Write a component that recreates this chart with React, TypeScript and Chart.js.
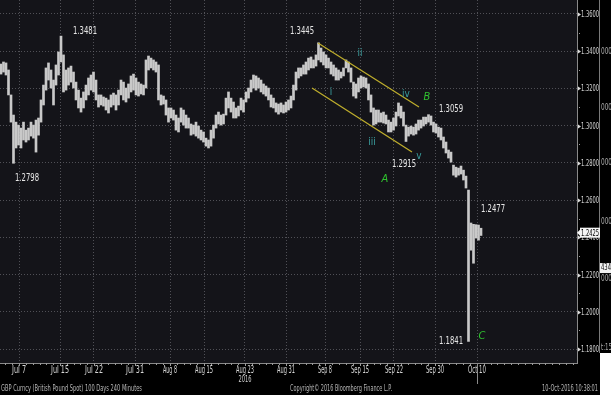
import React, { useEffect, useRef } from "react";
import { Chart, registerables } from "chart.js";

Chart.register(...registerables);

const FONT = '"Liberation Sans Narrow", "DejaVu Sans Condensed", "Liberation Sans", sans-serif';

// 240-minute bars (sampled), high and low prices
const highs = [
  1.3331, 1.3342, 1.3337, 1.3299, 1.3165, 1.3057, 1.3019, 1.3003, 1.2987, 1.3019,
  1.2976, 1.2987, 1.3019, 1.3003, 1.3030, 1.3041, 1.3138, 1.3218, 1.3310, 1.3337,
  1.3299, 1.3245, 1.3326, 1.3396, 1.3481, 1.3380, 1.3299, 1.3310, 1.3320, 1.3288,
  1.3234, 1.3191, 1.3148, 1.3181, 1.3218, 1.3256, 1.3272, 1.3288, 1.3245, 1.3165,
  1.3165, 1.3154, 1.3148, 1.3138, 1.3165, 1.3175, 1.3165, 1.3191, 1.3245, 1.3234,
  1.3202, 1.3224, 1.3267, 1.3277, 1.3256, 1.3234, 1.3224, 1.3218, 1.3353, 1.3374,
  1.3363, 1.3353, 1.3342, 1.3326, 1.3165, 1.3159, 1.3138, 1.3095, 1.3095, 1.3084,
  1.3057, 1.3041, 1.3095, 1.3084, 1.3057, 1.3041, 1.3009, 1.3003, 1.3019, 1.2998,
  1.2976, 1.2966, 1.2933, 1.2923, 1.2976, 1.3003, 1.3057, 1.3073, 1.3057, 1.3062,
  1.3148, 1.3181, 1.3148, 1.3127, 1.3095, 1.3105, 1.3148, 1.3138, 1.3181, 1.3202,
  1.3245, 1.3272, 1.3267, 1.3256, 1.3245, 1.3224, 1.3213, 1.3202, 1.3165, 1.3148,
  1.3122, 1.3116, 1.3122, 1.3111, 1.3127, 1.3138, 1.3159, 1.3218, 1.3288, 1.3310,
  1.3310, 1.3326, 1.3342, 1.3363, 1.3369, 1.3353, 1.3380, 1.3445, 1.3417, 1.3396,
  1.3380, 1.3363, 1.3342, 1.3326, 1.3310, 1.3299, 1.3288, 1.3310, 1.3353, 1.3342,
  1.3310, 1.3234, 1.3224, 1.3256, 1.3267, 1.3261, 1.3256, 1.3224, 1.3165, 1.3095,
  1.3084, 1.3084, 1.3068, 1.3073, 1.3057, 1.3030, 1.3019, 1.3041, 1.3073, 1.3122,
  1.3105, 1.3073, 1.3003, 1.2992, 1.2998, 1.2992, 1.3009, 1.3030, 1.3030, 1.3046,
  1.3046, 1.3059, 1.3052, 1.3019, 1.3009, 1.2992, 1.2987, 1.2939, 1.2912, 1.2869,
  1.2858, 1.2788, 1.2777, 1.2772, 1.2783, 1.2761, 1.2729, 1.2654, 1.2477, 1.2470,
  1.2468, 1.2466, 1.2449,
];
const lows = [
  1.3277, 1.3288, 1.3272, 1.3165, 1.3019, 1.2798, 1.2880, 1.2896, 1.2880, 1.2923,
  1.2912, 1.2923, 1.2944, 1.2933, 1.2858, 1.2949, 1.3019, 1.3111, 1.3191, 1.3245,
  1.3202, 1.3111, 1.3218, 1.3272, 1.3342, 1.3181, 1.3191, 1.3218, 1.3234, 1.3202,
  1.3138, 1.3095, 1.3073, 1.3095, 1.3138, 1.3165, 1.3191, 1.3181, 1.3138, 1.3100,
  1.3111, 1.3105, 1.3084, 1.3068, 1.3100, 1.3111, 1.3084, 1.3111, 1.3165, 1.3138,
  1.3127, 1.3148, 1.3181, 1.3191, 1.3165, 1.3159, 1.3170, 1.3165, 1.3202, 1.3299,
  1.3310, 1.3299, 1.3288, 1.3138, 1.3111, 1.3116, 1.3057, 1.3019, 1.3041, 1.3030,
  1.2976, 1.2966, 1.3019, 1.3003, 1.2987, 1.2987, 1.2949, 1.2955, 1.2944, 1.2933,
  1.2923, 1.2912, 1.2890, 1.2880, 1.2890, 1.2933, 1.2987, 1.3009, 1.3003, 1.3009,
  1.3057, 1.3095, 1.3073, 1.3041, 1.3041, 1.3052, 1.3084, 1.3073, 1.3127, 1.3148,
  1.3181, 1.3202, 1.3191, 1.3202, 1.3181, 1.3170, 1.3159, 1.3138, 1.3100, 1.3095,
  1.3073, 1.3062, 1.3073, 1.3068, 1.3073, 1.3084, 1.3095, 1.3138, 1.3191, 1.3256,
  1.3267, 1.3277, 1.3277, 1.3299, 1.3310, 1.3310, 1.3320, 1.3353, 1.3342, 1.3326,
  1.3310, 1.3310, 1.3277, 1.3267, 1.3245, 1.3245, 1.3256, 1.3267, 1.3310, 1.3288,
  1.3234, 1.3159, 1.3148, 1.3181, 1.3202, 1.3208, 1.3202, 1.3138, 1.3073, 1.3003,
  1.3009, 1.3019, 1.3019, 1.3014, 1.3009, 1.2966, 1.2966, 1.2976, 1.2998, 1.3052,
  1.3041, 1.2998, 1.2915, 1.2944, 1.2955, 1.2949, 1.2955, 1.2976, 1.2987, 1.2998,
  1.3009, 1.3019, 1.3003, 1.2966, 1.2960, 1.2939, 1.2923, 1.2880, 1.2853, 1.2826,
  1.2804, 1.2734, 1.2724, 1.2734, 1.2740, 1.2708, 1.2665, 1.1841, 1.2331, 1.2261,
  1.2396, 1.2385, 1.2410,
];
const lastPrice = 1.2425;

const dateLabels = ["Jul 7", "Jul 15", "Jul 22", "Jul 31", "Aug 8", "Aug 15", "Aug 23", "Aug 31", "Sep 8", "Sep 15", "Sep 22", "Sep 30", "Oct 10"];
const datePositions = [7.2, 23.6, 37.2, 53.6, 67.6, 81.2, 97.6, 114, 129.6, 143.6, 157.2, 173.6, 190.4];
const yearLabel = "2016";
const yearLabelIndex = 6;
const yTickValues = [1.18, 1.2, 1.22, 1.24, 1.26, 1.28, 1.3, 1.32, 1.34, 1.36];

const upperChannel = [{ x: 126.8, y: 1.3444 }, { x: 167.2, y: 1.31 }];
const lowerChannel = [{ x: 124.4, y: 1.3202 }, { x: 164.4, y: 1.2858 }];

const priceNotes = [
  { text: "1.3481", x: 33.6, y: 1.3509 },
  { text: "1.2798", x: 10.4, y: 1.2718 },
  { text: "1.3445", x: 120.4, y: 1.3509 },
  { text: "1.3059", x: 180, y: 1.3089 },
  { text: "1.2915", x: 161.2, y: 1.2794 },
  { text: "1.2477", x: 196.8, y: 1.2552 },
  { text: "1.1841", x: 180, y: 1.1842 },
];
const waveLetters = [
  { text: "A", x: 153.6, y: 1.2713 },
  { text: "B", x: 170.4, y: 1.3154 },
  { text: "C", x: 192.4, y: 1.1869 },
];
const waveNumerals = [
  { text: "i", x: 132, y: 1.3181 },
  { text: "ii", x: 143.6, y: 1.339 },
  { text: "iii", x: 148.4, y: 1.2912 },
  { text: "iv", x: 162, y: 1.317 },
  { text: "v", x: 167.2, y: 1.2837 },
];

const footerLeft = "GBP Curncy (British Pound Spot) 100 Days 240 Minutes";
const footerMid = "Copyright\u00A9 2016 Bloomberg Finance L.P.";
const footerRight = "10-Oct-2016 10:38:01";
const sidePanelNotes = [
  { text: "000", y: 1.3396 },
  { text: "000", y: 1.3095 },
  { text: "000", y: 1.2799 },
  { text: "000", y: 1.2482 },
  { text: "000", y: 1.2175 },
  { text: "t:15", y: 1.1804 },
];
const sidePanelBox = { text: "434", y: 1.2235 };

const bgPlugin = {
  id: "bgPlugin",
  beforeDraw(chart: any) {
    const { ctx, chartArea: a, width, height } = chart;
    ctx.save();
    ctx.fillStyle = "#000000";
    ctx.fillRect(0, 0, width, height);
    ctx.fillStyle = "#141419";
    ctx.fillRect(a.left, a.top, a.right - a.left, a.bottom - a.top);
    ctx.restore();
  },
};

const decorPlugin = {
  id: "decorPlugin",
  afterDraw(chart: any) {
    const { ctx, chartArea: a, width, height } = chart;
    const xs = chart.scales.x;
    const ys = chart.scales.y;
    ctx.save();

    // side panel remnants (cropped second panel on the far right)
    ctx.fillStyle = "#000000";
    ctx.fillRect(600, 0, width - 600, 353);
    ctx.fillStyle = "#ffffff";
    ctx.fillRect(600, 353, width - 600, height - 353);
    ctx.strokeStyle = "#7a7a7a";
    ctx.lineWidth = 1;
    ctx.beginPath();
    ctx.moveTo(599.5, 0);
    ctx.lineTo(599.5, 353);
    ctx.stroke();
    ctx.font = `8px ${FONT}`;
    ctx.textAlign = "left";
    ctx.textBaseline = "middle";
    ctx.fillStyle = "#a8a8a8";
    sidePanelNotes.forEach((n) => {
      ctx.fillText(n.text, 601, ys.getPixelForValue(n.y), 11);
    });
    const bpy = ys.getPixelForValue(sidePanelBox.y);
    ctx.fillStyle = "#f2f2f2";
    ctx.fillRect(600, bpy - 5, width - 600, 10);
    ctx.fillStyle = "#111111";
    ctx.fillText(sidePanelBox.text, 601, bpy, 10);

    // y-axis labels, arrow markers and minor dots
    ctx.font = `9px ${FONT}`;
    ys.ticks.forEach((t: any) => {
      const v = t.value;
      const py = Math.round(ys.getPixelForValue(v)) + 0.5;
      ctx.fillStyle = "#dddddd";
      ctx.beginPath();
      ctx.moveTo(a.right + 1, py - 2);
      ctx.lineTo(a.right + 4, py);
      ctx.lineTo(a.right + 1, py + 2);
      ctx.closePath();
      ctx.fill();
      ctx.fillStyle = "#d2d2d2";
      ctx.fillText(Number(v).toFixed(4), a.right + 4, py, 18);
      const pm = Math.round(ys.getPixelForValue(v + 0.01));
      if (pm > a.top && pm < a.bottom) {
        ctx.fillStyle = "#9a9a9a";
        ctx.fillRect(a.right + 2, pm, 1, 1);
      }
    });

    // last price box
    const lp = ys.getPixelForValue(lastPrice);
    ctx.fillStyle = "#f5f5f5";
    ctx.fillRect(a.right + 3, lp - 5, 20, 10);
    ctx.beginPath();
    ctx.moveTo(a.right, lp);
    ctx.lineTo(a.right + 3, lp - 3);
    ctx.lineTo(a.right + 3, lp + 3);
    ctx.closePath();
    ctx.fill();
    ctx.fillStyle = "#000000";
    ctx.fillText(lastPrice.toFixed(4), a.right + 4, lp + 0.5, 18);

    // x-axis labels
    ctx.font = `10px ${FONT}`;
    ctx.textAlign = "center";
    ctx.fillStyle = "#d6d6d6";
    const px = xs.ticks.map((t: any) => xs.getPixelForValue(t.value));
    xs.ticks.forEach((t: any, i: number) => {
      ctx.fillText(dateLabels[i], px[i], a.bottom + 7, dateLabels[i].length > 5 ? 18 : 14);
    });

    // x-axis minor ticks
    ctx.strokeStyle = "#9a9a9a";
    const drawTick = (x: number, len: number) => {
      const xx = Math.round(x) + 0.5;
      ctx.beginPath();
      ctx.moveTo(xx, a.bottom);
      ctx.lineTo(xx, a.bottom + len);
      ctx.stroke();
    };
    for (let k = 0; k < px.length - 1; k++) {
      const gap = px[k + 1] - px[k];
      const n = Math.max(1, Math.round(gap / 6.8));
      for (let j = 0; j < n; j++) drawTick(px[k] + (gap * j) / n, j === 0 ? 3 : 2);
    }
    const step = (px[1] - px[0]) / Math.round((px[1] - px[0]) / 6.8);
    for (let x = px[0] - step; x > a.left; x -= step) drawTick(x, 2);
    for (let x = px[px.length - 1]; x < a.right; x += step) drawTick(x, x === px[px.length - 1] ? 3 : 2);

    // today marker
    ctx.strokeStyle = "#8a8a8a";
    const lastX = Math.round(px[px.length - 1]) + 0.5;
    ctx.beginPath();
    ctx.moveTo(lastX, a.bottom);
    ctx.lineTo(lastX, a.bottom + 21);
    ctx.stroke();

    // year label
    ctx.font = `9px ${FONT}`;
    ctx.fillStyle = "#cfcfcf";
    ctx.textAlign = "center";
    ctx.fillText(yearLabel, px[yearLabelIndex], a.bottom + 17, 13);

    // footer
    ctx.fillStyle = "#b4b4b4";
    ctx.textAlign = "left";
    ctx.fillText(footerLeft, 1, height - 6, 141);
    ctx.fillText(footerMid, 290, height - 6, 102);
    ctx.textAlign = "right";
    ctx.fillText(footerRight, 598, height - 6, 56);

    // annotations
    ctx.textAlign = "center";
    ctx.textBaseline = "middle";
    ctx.fillStyle = "#e6e6e6";
    ctx.font = `11px ${FONT}`;
    priceNotes.forEach((n) => {
      ctx.fillText(n.text, xs.getPixelForValue(n.x), ys.getPixelForValue(n.y), 24);
    });
    ctx.fillStyle = "#2fc22f";
    ctx.font = `italic 11px ${FONT}`;
    waveLetters.forEach((n) => {
      ctx.fillText(n.text, xs.getPixelForValue(n.x), ys.getPixelForValue(n.y));
    });
    ctx.fillStyle = "#3a9c9c";
    ctx.font = `10px ${FONT}`;
    waveNumerals.forEach((n) => {
      ctx.fillText(n.text, xs.getPixelForValue(n.x), ys.getPixelForValue(n.y));
    });

    ctx.restore();
  },
};

export default function App() {
  const ref = useRef<HTMLCanvasElement>(null);
  useEffect(() => {
    document.body.style.margin = "0";
    document.body.style.background = "#000";
    const canvas = ref.current as HTMLCanvasElement;
    const gridColor = "rgba(105,105,112,0.7)";
    const chart = new Chart(canvas, {
      type: "bar",
      data: {
        datasets: [
          {
            type: "line",
            data: upperChannel,
            borderColor: "#bfae2c",
            borderWidth: 1.2,
            pointRadius: 0,
            order: 0,
          } as any,
          {
            type: "line",
            data: lowerChannel,
            borderColor: "#bfae2c",
            borderWidth: 1.2,
            pointRadius: 0,
            order: 0,
          } as any,
          {
            type: "bar",
            data: highs.map((h, i) => ({ x: i, y: [lows[i], h] })),
            backgroundColor: "#c9c9c9",
            borderWidth: 0,
            barThickness: 2,
            order: 1,
          } as any,
        ],
      },
      options: {
        animation: false,
        responsive: false,
        maintainAspectRatio: false,
        layout: { padding: 0 },
        plugins: { legend: { display: false }, tooltip: { enabled: false } },
        scales: {
          x: {
            type: "linear",
            min: -0.4,
            max: 230.4,
            offset: false,
            afterBuildTicks: (s: any) => {
              s.ticks = datePositions.map((v) => ({ value: v }));
            },
            afterFit: (s: any) => {
              s.height = 32;
              s.paddingLeft = 0;
              s.paddingRight = 0;
            },
            ticks: { display: false, autoSkip: false, callback: (_v: any, i: number) => dateLabels[i] },
            grid: { color: gridColor, drawTicks: false, offset: false, lineWidth: 1 },
            border: { display: true, color: "#8a8a8a", dash: [1, 2] },
          },
          y: {
            type: "linear",
            position: "right",
            min: 1.1725,
            max: 1.3675,
            afterBuildTicks: (s: any) => {
              s.ticks = yTickValues.map((v) => ({ value: v }));
            },
            afterFit: (s: any) => {
              s.width = 34;
              s.paddingTop = 0;
              s.paddingBottom = 0;
            },
            ticks: { display: false, callback: (v: any) => Number(v).toFixed(4) },
            grid: { color: gridColor, drawTicks: false, lineWidth: 1 },
            border: { display: true, color: "#8a8a8a", dash: [1, 2] },
          },
        },
      } as any,
      plugins: [bgPlugin, decorPlugin],
    });
    return () => chart.destroy();
  }, []);
  return <canvas ref={ref} width={611} height={395} style={{ display: "block" }} />;
}
